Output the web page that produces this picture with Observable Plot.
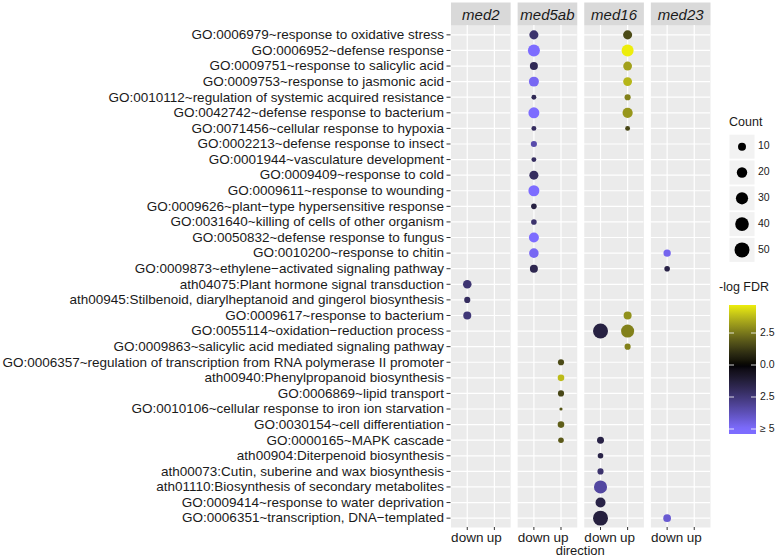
<!DOCTYPE html>
<html>
<head>
<meta charset="utf-8">
<script src="https://cdn.jsdelivr.net/npm/d3@7"></script>
<script src="https://cdn.jsdelivr.net/npm/@observablehq/plot@0.6"></script>
<style>
  html, body { margin: 0; padding: 0; background: #fff; }
  #chart { width: 777px; height: 559px; }
</style>
</head>
<body>
<div id="chart"></div>
<script>
const panels = ["med2", "med5ab", "med16", "med23"];
const directions = ["down", "up"];
const terms = [
  "GO:0006979~response to oxidative stress",
  "GO:0006952~defense response",
  "GO:0009751~response to salicylic acid",
  "GO:0009753~response to jasmonic acid",
  "GO:0010112~regulation of systemic acquired resistance",
  "GO:0042742~defense response to bacterium",
  "GO:0071456~cellular response to hypoxia",
  "GO:0002213~defense response to insect",
  "GO:0001944~vasculature development",
  "GO:0009409~response to cold",
  "GO:0009611~response to wounding",
  "GO:0009626~plant\u2212type hypersensitive response",
  "GO:0031640~killing of cells of other organism",
  "GO:0050832~defense response to fungus",
  "GO:0010200~response to chitin",
  "GO:0009873~ethylene\u2212activated signaling pathway",
  "ath04075:Plant hormone signal transduction",
  "ath00945:Stilbenoid, diarylheptanoid and gingerol biosynthesis",
  "GO:0009617~response to bacterium",
  "GO:0055114~oxidation\u2212reduction process",
  "GO:0009863~salicylic acid mediated signaling pathway",
  "GO:0006357~regulation of transcription from RNA polymerase II promoter",
  "ath00940:Phenylpropanoid biosynthesis",
  "GO:0006869~lipid transport",
  "GO:0010106~cellular response to iron ion starvation",
  "GO:0030154~cell differentiation",
  "GO:0000165~MAPK cascade",
  "ath00904:Diterpenoid biosynthesis",
  "ath00073:Cutin, suberine and wax biosynthesis",
  "ath01110:Biosynthesis of secondary metabolites",
  "GO:0009414~response to water deprivation",
  "GO:0006351~transcription, DNA\u2212templated"
];

// one entry per dot
const dotTerm  = [0,0, 1,1, 2,2, 3,3, 4,4, 5,5, 6,6, 7, 8, 9, 10, 11, 12, 13, 14,14, 15,15, 16, 17, 18,18, 19,19, 20, 21, 22, 23, 24, 25, 26,26, 27, 28, 29, 30, 31,31];
const dotPanel = ["med5ab","med16","med5ab","med16","med5ab","med16","med5ab","med16","med5ab","med16","med5ab","med16","med5ab","med16",
                  "med5ab","med5ab","med5ab","med5ab","med5ab","med5ab","med5ab","med5ab","med23","med5ab","med23",
                  "med2","med2","med2","med16","med16","med16","med16",
                  "med5ab","med5ab","med5ab","med5ab","med5ab","med5ab","med16","med16","med16","med16","med16","med16","med23"];
const dotDir   = ["down","up","down","up","down","up","down","up","down","up","down","up","down","up",
                  "down","down","down","down","down","down","down","down","down","down","down",
                  "down","down","down","up","down","up","up",
                  "up","up","up","up","up","up","down","down","down","down","down","down","down"];
const dotCount = [14,14, 29,29, 10,13, 18,13, 3,5, 23,19, 3,3,
                  5, 3, 14, 23, 4, 4, 18, 16,8, 10,4,
                  12, 5, 10,10, 50,36, 5,
                  5, 6, 5, 2, 6, 4,7, 4, 5, 36, 18, 50,9];
// signed -log FDR : negative = down-regulated, positive = up-regulated (capped at 5)
const dotScore = [-2.3,1.6, -5,4.69, -1.8,3.3, -4.8,3.7, -1.8,2.7, -5,3.1, -2,1.5,
                  -3.5, -2, -2, -5, -1.4, -2.3, -5, -4.8,-4.7, -1.7,-1.5,
                  -2.4, -2, -2.5,3.0, -1.4,2.7, 2.7,
                  1.6, 3.8, 1.5, 1.8, 2.0, 1.9,-1.5, -1.5, -2.3, -3.3, -1.5, -1.3,-4.2];

const countBreaks = [10, 20, 30, 40, 50];
const fdrBreaks = [2.5, 0, -2.5, -5];
const fdrBreakLabels = ["2.5", "0.0", "2.5", "\u2265 5"];

const dots = dotTerm.map((t, i) => ({
  term: terms[t], panel: dotPanel[i], dir: dotDir[i], count: dotCount[i], score: dotScore[i]
}));

const W = 777, H = 559;
const mTop = 25, mBottom = 32, mLeft = 450.5, mRight = 67;
const panelH = H - mTop - mBottom;
const font = "'Liberation Sans', Arial, Helvetica, sans-serif";

const chart = Plot.plot({
  width: W, height: H,
  marginTop: mTop, marginBottom: mBottom, marginLeft: mLeft, marginRight: mRight,
  style: { fontFamily: font, fontSize: "13.5px", color: "#1a1a1a", background: "white" },
  fx: { domain: panels, paddingInner: 0.105, paddingOuter: 0, round: false, label: null },
  x: { type: "point", domain: directions, padding: 0.6, round: false, label: null },
  y: { type: "point", domain: terms, padding: 0.6, round: false, label: null },
  r: { type: "linear", transform: c => Math.sqrt(Math.max(0, c - 2) / 50), domain: [0, 1], range: [1.6, 7.6], zero: false },
  color: { type: "linear", domain: [-5, 0, 5], range: ["#7D6CFF", "#000000", "#FFFF00"], interpolate: "lab", clamp: true },
  marks: [
    Plot.frame({ fill: "#EBEBEB" }),
    Plot.frame({ fill: "#D9D9D9", insetTop: -23, insetBottom: panelH }),
    Plot.gridX({ stroke: "white", strokeOpacity: 1, strokeWidth: 1.2 }),
    Plot.gridY({ stroke: "white", strokeOpacity: 1, strokeWidth: 1.2 }),
    Plot.dot(dots, { fx: "panel", x: "dir", y: "term", r: "count", fill: "score", stroke: null }),
    Plot.axisY({ tickSize: 4, tickPadding: 3, fontSize: 13.5, stroke: "#333", fill: "#1a1a1a", label: null }),
    Plot.axisX({ tickSize: 3, tickPadding: 2, fontSize: 13.5, stroke: "#333", fill: "#1a1a1a", label: null }),
    Plot.axisFx({ anchor: "top", tickSize: 0, tickPadding: 6, fontSize: 15, fontStyle: "italic", fill: "#1a1a1a", label: null })
  ]
});

document.getElementById("chart").appendChild(chart);

// ---- legends & x title (drawn with d3 from the plot's own scales) ----
const svg = d3.select(chart);
const rs = chart.scale("r");
const rOf = v => rs.transform ? rs.apply(rs.transform(v)) : rs.apply(v);
const cs = chart.scale("color");

svg.append("text").attr("x", (mLeft + (W - mRight)) / 2).attr("y", 552)
  .attr("text-anchor", "middle").attr("dominant-baseline", "middle")
  .attr("font-family", font).attr("font-size", 13).attr("fill", "#1a1a1a").text("direction");

const lg = svg.append("g").attr("font-family", font).attr("text-anchor", "start");
lg.append("text").attr("x", 729).attr("y", 123).attr("dominant-baseline", "middle")
  .attr("font-size", 12.5).attr("fill", "#1a1a1a").text("Count");
countBreaks.forEach((v, i) => {
  const cy = 146.7 + i * 25.8;
  lg.append("rect").attr("x", 729.5).attr("y", cy - 12).attr("width", 25).attr("height", 24).attr("fill", "#F2F2F2");
  lg.append("circle").attr("cx", 742).attr("cy", cy).attr("r", rOf(v)).attr("fill", "black");
  lg.append("text").attr("x", 758).attr("y", cy).attr("dominant-baseline", "middle")
    .attr("font-size", 10.5).attr("fill", "#1a1a1a").text(v);
});

lg.append("text").attr("x", 719).attr("y", 288).attr("dominant-baseline", "middle")
  .attr("font-size", 12.5).attr("fill", "#1a1a1a").text("-log FDR");

const barTop = 305, barBot = 434, zeroY = 365, pxPerUnit = 12.8;
const vTop = (zeroY - barTop) / pxPerUnit, vBot = -(barBot - zeroY) / pxPerUnit;
const defs = svg.append("defs");
const grad = defs.append("linearGradient").attr("id", "fdrgrad")
  .attr("x1", 0).attr("y1", 0).attr("x2", 0).attr("y2", 1);
for (let k = 0; k <= 40; k++) {
  const v = vTop + (vBot - vTop) * k / 40;
  grad.append("stop").attr("offset", k / 40).attr("stop-color", cs.apply(Math.max(-5, v)));
}
lg.append("rect").attr("x", 729).attr("y", barTop).attr("width", 27).attr("height", barBot - barTop)
  .attr("fill", "url(#fdrgrad)");
fdrBreaks.forEach((v, i) => {
  const y = zeroY - v * pxPerUnit;
  lg.append("line").attr("x1", 729).attr("x2", 734).attr("y1", y).attr("y2", y).attr("stroke", "white").attr("stroke-width", 0.8);
  lg.append("line").attr("x1", 751).attr("x2", 756).attr("y1", y).attr("y2", y).attr("stroke", "white").attr("stroke-width", 0.8);
  lg.append("text").attr("x", 760).attr("y", y).attr("dominant-baseline", "middle")
    .attr("font-size", 10.5).attr("fill", "#1a1a1a").text(fdrBreakLabels[i]);
});
</script>
</body>
</html>
